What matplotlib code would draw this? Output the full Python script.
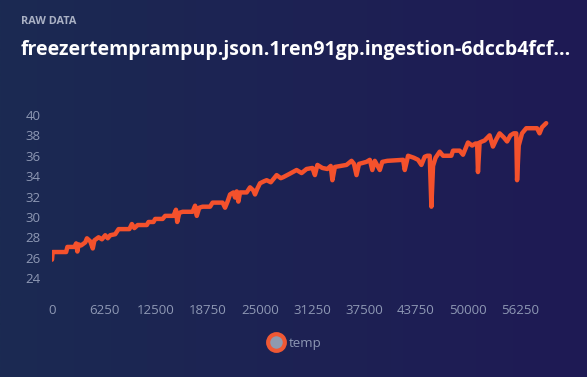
import numpy as np
import matplotlib
matplotlib.use("Agg")
import matplotlib.pyplot as plt
from matplotlib.colors import LinearSegmentedColormap
from matplotlib.lines import Line2D

# readings of the temp series (x = sample offset, y = temp)
sample = [0, 80, 1700, 1850, 2700, 2900, 3050, 3200, 3500, 4000, 4200, 4600,
          4900, 5100, 5600, 6000, 6400, 6700, 7000, 7600, 8000, 9300, 9600,
          9900, 10300, 11400, 11600, 12200, 12400, 13300, 13600, 14600, 14900,
          15050, 15300, 15700, 16900, 17200, 17400, 17700, 18100, 19000, 19300,
          20500, 20800, 21100, 21400, 21800, 22000, 22200, 22400, 22600, 23400,
          23800, 24200, 24400, 24700, 25000, 25500, 25800, 26300, 27000, 27500,
          27800, 28500, 29400, 30000, 30600, 31300, 31600, 31900, 32500, 33100,
          33500, 33700, 34000, 34700, 35400, 36000, 36300, 36600, 36900, 37800,
          38200, 38500, 38800, 39000, 39400, 39700, 40300, 42200, 42400, 42800,
          43500, 44000, 44400, 44800, 45100, 45400, 45600, 45800, 46100, 46600,
          47000, 48000, 48200, 49000, 49400, 49800, 50000, 50500, 50900, 51100,
          51200, 51400, 52000, 52600, 53000, 53400, 53800, 54300, 54700, 55100,
          55500, 55800, 55900, 56100, 56500, 57000, 58300, 58600, 58900, 59400]
temp = [25.8, 26.55, 26.55, 27.05, 27.05, 27.4, 26.6, 27.3, 27.2, 27.5, 27.9, 27.6,
        26.9, 27.7, 28.0, 27.8, 28.2, 27.9, 28.2, 28.3, 28.8, 28.8, 29.3,
        28.9, 29.2, 29.2, 29.5, 29.5, 29.8, 29.8, 30.1, 30.1, 30.7,
        29.5, 30.4, 30.5, 30.5, 31.1, 30.1, 30.9, 31.0, 31.0, 31.4,
        31.4, 30.9, 31.5, 32.2, 32.4, 31.9, 32.5, 31.5, 32.4, 32.4,
        32.9, 32.6, 32.2, 32.8, 33.3, 33.5, 33.6, 33.4, 34.1, 33.8,
        33.9, 34.2, 34.6, 34.3, 34.7, 34.8, 34.1, 35.1, 34.8, 34.7,
        35.0, 33.6, 34.9, 35.0, 35.1, 35.5, 35.2, 34.1, 35.2, 35.4,
        35.6, 34.6, 35.5, 35.2, 34.6, 35.4, 35.5, 35.6, 34.6, 36.0,
        35.8, 35.6, 35.1, 35.9, 36.0, 36.0, 31.0, 35.0, 35.8, 36.4,
        36.0, 36.0, 36.5, 36.5, 36.1, 36.9, 37.3, 37.0, 37.2, 37.2,
        34.4, 37.3, 37.5, 38.0, 36.9, 37.6, 38.2, 37.8, 37.4, 38.0,
        38.2, 38.2, 33.6, 37.0, 38.2, 38.7, 38.7, 38.2, 38.8, 39.2]

x_ticks = [0, 6250, 12500, 18750, 25000, 31250, 37500, 43750, 50000, 56250]
y_ticks = [24, 26, 28, 30, 32, 34, 36, 38, 40]

line_color = "#f4512c"
label_color = "#8e98b4"

fig = plt.figure(figsize=(5.87, 3.77), dpi=100)

# background gradient
bg = fig.add_axes([0, 0, 1, 1], zorder=0)
cmap = LinearSegmentedColormap.from_list("bg", ["#1b2a52", "#1f1a55"])
bg.imshow(np.linspace(0, 1, 256).reshape(1, -1), cmap=cmap, aspect="auto",
          extent=[0, 1, 0, 1])
bg.axis("off")

fig.text(21 / 587, 1 - 22 / 377, "RAW DATA", color="#aab1c4", fontsize=7.8,
         fontweight="bold", family="Open Sans", va="center")
fig.text(21 / 587, 1 - 50 / 377,
         "freezertemprampup.json.1ren91gp.ingestion-6dccb4fcf...",
         color="white", fontsize=14, fontweight="bold", family="Open Sans",
         va="center")

ax = fig.add_axes([52 / 587, 1 - 293.3 / 377, 507.5 / 587, 188.5 / 377], zorder=1)
ax.patch.set_alpha(0)
ax.plot(sample, temp, color=line_color, lw=3.2, solid_joinstyle="round",
        solid_capstyle="round")
ax.set_xlim(0, 61000)
ax.set_ylim(22.5, 41)
ax.set_xticks(x_ticks)
ax.set_yticks(y_ticks)
for s in ax.spines.values():
    s.set_visible(False)
ax.tick_params(length=0, colors=label_color, labelsize=9.5)
ax.tick_params(axis="y", pad=8)
ax.tick_params(axis="x", pad=8)
for t in ax.get_xticklabels() + ax.get_yticklabels():
    t.set_family("Open Sans")

handle = Line2D([], [], ls="none", marker="o", markersize=12,
                markerfacecolor="#8e9aae", markeredgecolor="#ef5834",
                markeredgewidth=3)
leg = fig.legend([handle], ["temp"], loc="center", bbox_to_anchor=(295 / 587, 1 - 343 / 377),
                 frameon=False, handletextpad=0.35, handlelength=1.2,
                 prop={"family": "Open Sans", "size": 9.5})
for t in leg.get_texts():
    t.set_color(label_color)

fig.savefig("out.png", dpi=100)
